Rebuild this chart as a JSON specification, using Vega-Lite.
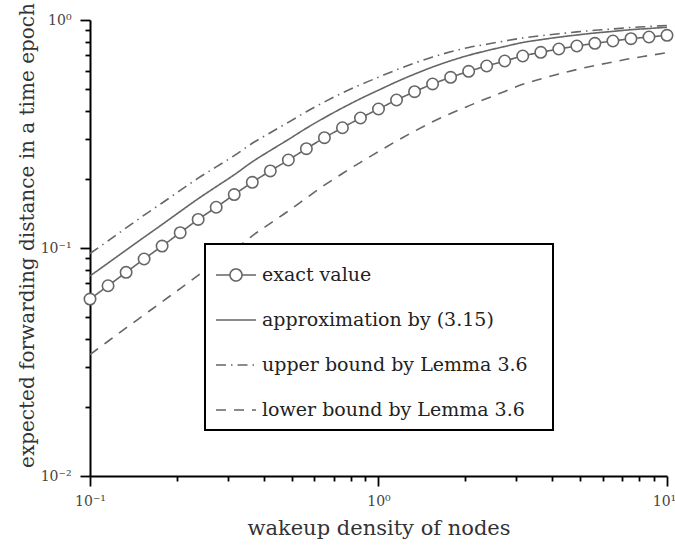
{
  "$schema": "https://vega.github.io/schema/vega-lite/v6.json",
  "width": 577,
  "height": 456,
  "autosize": {"type": "none"},
  "padding": {"left": 90, "top": 20, "right": 8, "bottom": 70},
  "background": "white",
  "config": {
    "view": {"stroke": null},
    "axis": {"grid": false}
  },
  "data": {
    "values": [
      {"x": 0.1, "y": 0.0597, "s": "exact value"},
      {"x": 0.1155, "y": 0.0683, "s": "exact value"},
      {"x": 0.1334, "y": 0.0782, "s": "exact value"},
      {"x": 0.154, "y": 0.0895, "s": "exact value"},
      {"x": 0.1778, "y": 0.102, "s": "exact value"},
      {"x": 0.2054, "y": 0.1167, "s": "exact value"},
      {"x": 0.2371, "y": 0.1334, "s": "exact value"},
      {"x": 0.2738, "y": 0.1509, "s": "exact value"},
      {"x": 0.3162, "y": 0.1715, "s": "exact value"},
      {"x": 0.3652, "y": 0.1942, "s": "exact value"},
      {"x": 0.4217, "y": 0.2177, "s": "exact value"},
      {"x": 0.487, "y": 0.2432, "s": "exact value"},
      {"x": 0.5623, "y": 0.2726, "s": "exact value"},
      {"x": 0.6494, "y": 0.3046, "s": "exact value"},
      {"x": 0.7499, "y": 0.3369, "s": "exact value"},
      {"x": 0.866, "y": 0.3716, "s": "exact value"},
      {"x": 1, "y": 0.4071, "s": "exact value"},
      {"x": 1.1548, "y": 0.4458, "s": "exact value"},
      {"x": 1.3335, "y": 0.4849, "s": "exact value"},
      {"x": 1.5399, "y": 0.5241, "s": "exact value"},
      {"x": 1.7783, "y": 0.5605, "s": "exact value"},
      {"x": 2.0535, "y": 0.5957, "s": "exact value"},
      {"x": 2.3714, "y": 0.6285, "s": "exact value"},
      {"x": 2.7384, "y": 0.661, "s": "exact value"},
      {"x": 3.1623, "y": 0.6953, "s": "exact value"},
      {"x": 3.6517, "y": 0.7216, "s": "exact value"},
      {"x": 4.217, "y": 0.7461, "s": "exact value"},
      {"x": 4.8697, "y": 0.769, "s": "exact value"},
      {"x": 5.6234, "y": 0.7901, "s": "exact value"},
      {"x": 6.4938, "y": 0.8088, "s": "exact value"},
      {"x": 7.4989, "y": 0.8279, "s": "exact value"},
      {"x": 8.6596, "y": 0.8421, "s": "exact value"},
      {"x": 10, "y": 0.8568, "s": "exact value"},

      {"x": 0.1, "y": 0.0754, "s": "approximation by (3.15)"},
      {"x": 0.1155, "y": 0.0859, "s": "approximation by (3.15)"},
      {"x": 0.1334, "y": 0.0979, "s": "approximation by (3.15)"},
      {"x": 0.154, "y": 0.1115, "s": "approximation by (3.15)"},
      {"x": 0.1778, "y": 0.1268, "s": "approximation by (3.15)"},
      {"x": 0.2054, "y": 0.1446, "s": "approximation by (3.15)"},
      {"x": 0.2371, "y": 0.1645, "s": "approximation by (3.15)"},
      {"x": 0.2738, "y": 0.1857, "s": "approximation by (3.15)"},
      {"x": 0.3162, "y": 0.2095, "s": "approximation by (3.15)"},
      {"x": 0.3652, "y": 0.2388, "s": "approximation by (3.15)"},
      {"x": 0.4217, "y": 0.2677, "s": "approximation by (3.15)"},
      {"x": 0.487, "y": 0.2991, "s": "approximation by (3.15)"},
      {"x": 0.5623, "y": 0.3353, "s": "approximation by (3.15)"},
      {"x": 0.6494, "y": 0.3727, "s": "approximation by (3.15)"},
      {"x": 0.7499, "y": 0.4116, "s": "approximation by (3.15)"},
      {"x": 0.866, "y": 0.4517, "s": "approximation by (3.15)"},
      {"x": 1, "y": 0.4923, "s": "approximation by (3.15)"},
      {"x": 1.1548, "y": 0.5357, "s": "approximation by (3.15)"},
      {"x": 1.3335, "y": 0.579, "s": "approximation by (3.15)"},
      {"x": 1.5399, "y": 0.622, "s": "approximation by (3.15)"},
      {"x": 1.7783, "y": 0.6624, "s": "approximation by (3.15)"},
      {"x": 2.0535, "y": 0.7002, "s": "approximation by (3.15)"},
      {"x": 2.3714, "y": 0.7334, "s": "approximation by (3.15)"},
      {"x": 2.7384, "y": 0.7651, "s": "approximation by (3.15)"},
      {"x": 3.1623, "y": 0.7968, "s": "approximation by (3.15)"},
      {"x": 3.6517, "y": 0.8196, "s": "approximation by (3.15)"},
      {"x": 4.217, "y": 0.8407, "s": "approximation by (3.15)"},
      {"x": 4.8697, "y": 0.8594, "s": "approximation by (3.15)"},
      {"x": 5.6234, "y": 0.8769, "s": "approximation by (3.15)"},
      {"x": 6.4938, "y": 0.8913, "s": "approximation by (3.15)"},
      {"x": 7.4989, "y": 0.9067, "s": "approximation by (3.15)"},
      {"x": 8.6596, "y": 0.9177, "s": "approximation by (3.15)"},
      {"x": 10, "y": 0.929, "s": "approximation by (3.15)"},

      {"x": 0.1, "y": 0.0946, "s": "upper bound by Lemma 3.6"},
      {"x": 0.1155, "y": 0.1075, "s": "upper bound by Lemma 3.6"},
      {"x": 0.1334, "y": 0.1225, "s": "upper bound by Lemma 3.6"},
      {"x": 0.154, "y": 0.1393, "s": "upper bound by Lemma 3.6"},
      {"x": 0.1778, "y": 0.1575, "s": "upper bound by Lemma 3.6"},
      {"x": 0.2054, "y": 0.1788, "s": "upper bound by Lemma 3.6"},
      {"x": 0.2371, "y": 0.2024, "s": "upper bound by Lemma 3.6"},
      {"x": 0.2738, "y": 0.2268, "s": "upper bound by Lemma 3.6"},
      {"x": 0.3162, "y": 0.2542, "s": "upper bound by Lemma 3.6"},
      {"x": 0.3652, "y": 0.2879, "s": "upper bound by Lemma 3.6"},
      {"x": 0.4217, "y": 0.3204, "s": "upper bound by Lemma 3.6"},
      {"x": 0.487, "y": 0.3558, "s": "upper bound by Lemma 3.6"},
      {"x": 0.5623, "y": 0.3961, "s": "upper bound by Lemma 3.6"},
      {"x": 0.6494, "y": 0.4372, "s": "upper bound by Lemma 3.6"},
      {"x": 0.7499, "y": 0.4788, "s": "upper bound by Lemma 3.6"},
      {"x": 0.866, "y": 0.5203, "s": "upper bound by Lemma 3.6"},
      {"x": 1, "y": 0.5611, "s": "upper bound by Lemma 3.6"},
      {"x": 1.1548, "y": 0.6046, "s": "upper bound by Lemma 3.6"},
      {"x": 1.3335, "y": 0.6471, "s": "upper bound by Lemma 3.6"},
      {"x": 1.5399, "y": 0.6882, "s": "upper bound by Lemma 3.6"},
      {"x": 1.7783, "y": 0.7252, "s": "upper bound by Lemma 3.6"},
      {"x": 2.0535, "y": 0.7575, "s": "upper bound by Lemma 3.6"},
      {"x": 2.3714, "y": 0.7831, "s": "upper bound by Lemma 3.6"},
      {"x": 2.7384, "y": 0.8088, "s": "upper bound by Lemma 3.6"},
      {"x": 3.1623, "y": 0.8338, "s": "upper bound by Lemma 3.6"},
      {"x": 3.6517, "y": 0.8533, "s": "upper bound by Lemma 3.6"},
      {"x": 4.217, "y": 0.8707, "s": "upper bound by Lemma 3.6"},
      {"x": 4.8697, "y": 0.8867, "s": "upper bound by Lemma 3.6"},
      {"x": 5.6234, "y": 0.9012, "s": "upper bound by Lemma 3.6"},
      {"x": 6.4938, "y": 0.9132, "s": "upper bound by Lemma 3.6"},
      {"x": 7.4989, "y": 0.9271, "s": "upper bound by Lemma 3.6"},
      {"x": 8.6596, "y": 0.9365, "s": "upper bound by Lemma 3.6"},
      {"x": 10, "y": 0.946, "s": "upper bound by Lemma 3.6"},

      {"x": 0.1, "y": 0.0341, "s": "lower bound by Lemma 3.6"},
      {"x": 0.1155, "y": 0.039, "s": "lower bound by Lemma 3.6"},
      {"x": 0.1334, "y": 0.0446, "s": "lower bound by Lemma 3.6"},
      {"x": 0.154, "y": 0.0509, "s": "lower bound by Lemma 3.6"},
      {"x": 0.1778, "y": 0.0581, "s": "lower bound by Lemma 3.6"},
      {"x": 0.2054, "y": 0.0664, "s": "lower bound by Lemma 3.6"},
      {"x": 0.2371, "y": 0.0759, "s": "lower bound by Lemma 3.6"},
      {"x": 0.2738, "y": 0.0861, "s": "lower bound by Lemma 3.6"},
      {"x": 0.3162, "y": 0.0982, "s": "lower bound by Lemma 3.6"},
      {"x": 0.3652, "y": 0.1131, "s": "lower bound by Lemma 3.6"},
      {"x": 0.4217, "y": 0.1283, "s": "lower bound by Lemma 3.6"},
      {"x": 0.487, "y": 0.1453, "s": "lower bound by Lemma 3.6"},
      {"x": 0.5623, "y": 0.1657, "s": "lower bound by Lemma 3.6"},
      {"x": 0.6494, "y": 0.1886, "s": "lower bound by Lemma 3.6"},
      {"x": 0.7499, "y": 0.2121, "s": "lower bound by Lemma 3.6"},
      {"x": 0.866, "y": 0.2376, "s": "lower bound by Lemma 3.6"},
      {"x": 1, "y": 0.2647, "s": "lower bound by Lemma 3.6"},
      {"x": 1.1548, "y": 0.2946, "s": "lower bound by Lemma 3.6"},
      {"x": 1.3335, "y": 0.3256, "s": "lower bound by Lemma 3.6"},
      {"x": 1.5399, "y": 0.3577, "s": "lower bound by Lemma 3.6"},
      {"x": 1.7783, "y": 0.389, "s": "lower bound by Lemma 3.6"},
      {"x": 2.0535, "y": 0.4201, "s": "lower bound by Lemma 3.6"},
      {"x": 2.3714, "y": 0.4524, "s": "lower bound by Lemma 3.6"},
      {"x": 2.7384, "y": 0.4862, "s": "lower bound by Lemma 3.6"},
      {"x": 3.1623, "y": 0.5224, "s": "lower bound by Lemma 3.6"},
      {"x": 3.6517, "y": 0.5515, "s": "lower bound by Lemma 3.6"},
      {"x": 4.217, "y": 0.5794, "s": "lower bound by Lemma 3.6"},
      {"x": 4.8697, "y": 0.6063, "s": "lower bound by Lemma 3.6"},
      {"x": 5.6234, "y": 0.6316, "s": "lower bound by Lemma 3.6"},
      {"x": 6.4938, "y": 0.6543, "s": "lower bound by Lemma 3.6"},
      {"x": 7.4989, "y": 0.678, "s": "lower bound by Lemma 3.6"},
      {"x": 8.6596, "y": 0.698, "s": "lower bound by Lemma 3.6"},
      {"x": 10, "y": 0.7188, "s": "lower bound by Lemma 3.6"}
    ]
  },
  "layer": [
    {
      "mark": {"type": "line", "color": "#666666", "strokeWidth": 1.6, "interpolate": "monotone"},
      "encoding": {
        "x": {
          "field": "x", "type": "quantitative",
          "scale": {"type": "log", "domain": [0.1, 10], "nice": false},
          "axis": {
            "orient": "bottom",
            "values": [0.1, 1, 10],
            "labelExpr": "datum.value < 0.5 ? '10⁻¹' : datum.value < 5 ? '10⁰' : '10¹'",
            "labelOffset": {"condition": {"test": "datum.value > 5", "value": -3}, "value": 0},
            "tickSize": 10, "tickWidth": 1.8, "tickColor": "black",
            "domainColor": "black", "domainWidth": 2,
            "labelFont": "DejaVu Serif", "labelFontSize": 14, "labelColor": "#444444",
            "labelPadding": 8, "labelFlush": false,
            "title": "wakeup density of nodes",
            "titleFont": "DejaVu Serif", "titleFontSize": 21, "titleFontWeight": "normal",
            "titleColor": "#333333", "titleBaseline": "alphabetic", "titleY": 58
          }
        },
        "y": {
          "field": "y", "type": "quantitative",
          "scale": {"type": "log", "domain": [0.01, 1], "nice": false},
          "axis": {
            "orient": "left",
            "values": [0.01, 0.1, 1],
            "labelExpr": "datum.value < 0.05 ? '10⁻²' : datum.value < 0.5 ? '10⁻¹' : '10⁰'",
            "tickSize": 10, "tickWidth": 1.8, "tickColor": "black",
            "domainColor": "black", "domainWidth": 2,
            "labelFont": "DejaVu Serif", "labelFontSize": 14, "labelColor": "#444444",
            "labelPadding": 9, "labelFlush": false,
            "title": "expected forwarding distance in a time epoch",
            "titleFont": "DejaVu Serif", "titleFontSize": 20, "titleFontWeight": "normal",
            "titleColor": "#333333", "titleBaseline": "alphabetic",
            "titleX": -57, "titleY": 215
          }
        },
        "strokeDash": {
          "field": "s", "type": "nominal",
          "scale": {
            "domain": ["exact value", "approximation by (3.15)", "upper bound by Lemma 3.6", "lower bound by Lemma 3.6"],
            "range": [[1, 0], [1, 0], [10, 5, 1.5, 5], [10, 8]]
          },
          "legend": {
            "orient": "none", "legendX": 115, "legendY": 224,
            "title": " ", "titleOrient": "right", "titlePadding": 15,
            "fillColor": "white", "strokeColor": "black", "padding": 10,
            "symbolType": "stroke", "symbolSize": 1600, "symbolStrokeWidth": 1.6,
            "symbolStrokeColor": "#666666",
            "labelFont": "DejaVu Serif", "labelFontSize": 19, "labelColor": "#222222",
            "labelOffset": 5, "labelLimit": 500, "rowPadding": 14,
            "encode": {
              "legend": {"update": {"strokeWidth": {"value": 2}}},
              "symbols": {
                "update": {
                  "shape": {"signal": "datum.value === 'exact value' ? 'M-1,0L-0.3,0M0.3,0C0.3,0.1657 0.1657,0.3 0,0.3C-0.1657,0.3 -0.3,0.1657 -0.3,0C-0.3,-0.1657 -0.1657,-0.3 0,-0.3C0.1657,-0.3 0.3,-0.1657 0.3,0ZM0.3,0L1,0' : 'stroke'"},
                  "fill": {"value": "transparent"}
                }
              }
            }
          }
        }
      }
    },
    {
      "transform": [{"filter": "datum.s === 'exact value'"}],
      "mark": {"type": "point", "shape": "circle", "size": 130, "fill": "white", "stroke": "#666666", "strokeWidth": 1.6, "opacity": 1},
      "encoding": {
        "x": {
          "field": "x", "type": "quantitative",
          "axis": {
            "orient": "bottom",
            "values": [0.2, 0.3, 0.4, 0.5, 0.6, 0.7, 0.8, 0.9, 2, 3, 4, 5, 6, 7, 8, 9],
            "labels": false, "domain": false, "title": null,
            "tickSize": 5, "tickWidth": 1.8, "tickColor": "black"
          }
        },
        "y": {
          "field": "y", "type": "quantitative",
          "axis": {
            "orient": "left",
            "values": [0.02, 0.03, 0.04, 0.05, 0.06, 0.07, 0.08, 0.09, 0.2, 0.3, 0.4, 0.5, 0.6, 0.7, 0.8, 0.9],
            "labels": false, "domain": false, "title": null,
            "tickSize": 5, "tickWidth": 1.8, "tickColor": "black"
          }
        }
      }
    }
  ],
  "resolve": {"axis": {"x": "independent", "y": "independent"}}
}
